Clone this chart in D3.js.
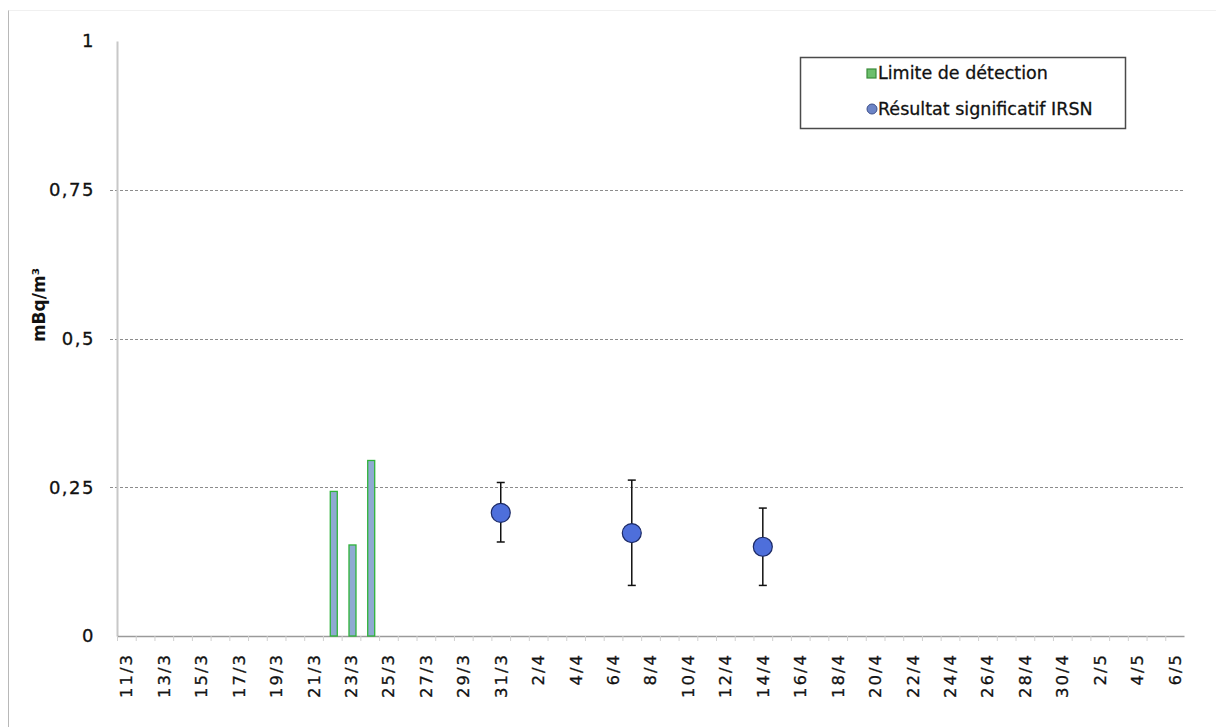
<!DOCTYPE html>
<html>
<head>
<meta charset="utf-8">
<script src="https://cdn.jsdelivr.net/npm/d3@7"></script>
<style>
  html, body { margin: 0; padding: 0; background: #fff; }
  svg { display: block; }
  text { font-family: "DejaVu Sans", Verdana, sans-serif; fill: #111; }
</style>
</head>
<body>
<svg id="chart" width="1216" height="727"></svg>
<script>
// Daily sampling dates (day/month), 11 March to 6 May
const days = [
  "11/3","12/3","13/3","14/3","15/3","16/3","17/3","18/3","19/3","20/3",
  "21/3","22/3","23/3","24/3","25/3","26/3","27/3","28/3","29/3","30/3","31/3",
  "1/4","2/4","3/4","4/4","5/4","6/4","7/4","8/4","9/4","10/4",
  "11/4","12/4","13/4","14/4","15/4","16/4","17/4","18/4","19/4","20/4",
  "21/4","22/4","23/4","24/4","25/4","26/4","27/4","28/4","29/4","30/4",
  "1/5","2/5","3/5","4/5","5/5","6/5"
];

// Detection limits (mBq/m³)
const limitDays = ["22/3", "23/3", "24/3"];
const limitValues = [0.243, 0.153, 0.295];

// Significant IRSN results with uncertainty range (mBq/m³)
const resultDays = ["31/3", "7/4", "14/4"];
const resultValues = [0.207, 0.173, 0.150];
const resultLow = [0.158, 0.085, 0.085];
const resultHigh = [0.258, 0.262, 0.215];

const yTicks = [0, 0.25, 0.5, 0.75, 1];
const yTickLabels = ["0", "0,25", "0,5", "0,75", "1"];

const legendLabels = ["Limite de détection", "Résultat significatif IRSN"];

const svg = d3.select("#chart");

// faint outer frame
svg.append("line").attr("x1", 8.5).attr("x2", 8.5).attr("y1", 10).attr("y2", 727)
  .attr("stroke", "#b8b8b8").attr("stroke-width", 1);
svg.append("line").attr("x1", 8.5).attr("x2", 1216).attr("y1", 10.5).attr("y2", 10.5)
  .attr("stroke", "#f0f0f0").attr("stroke-width", 1);

const plotLeft = 117, plotRight = 1184, plotTop = 41, plotBottom = 636;

const x = d3.scaleBand().domain(days).range([plotLeft, plotRight]).paddingInner(0).paddingOuter(0);
const y = d3.scaleLinear().domain([0, 1]).range([plotBottom, plotTop]);

// horizontal dashed gridlines
svg.append("g").selectAll("line")
  .data(yTicks.filter(t => t > 0 && t < 1))
  .join("line")
  .attr("x1", plotLeft - 7).attr("x2", plotRight)
  .attr("y1", d => Math.round(y(d)) + 0.5).attr("y2", d => Math.round(y(d)) + 0.5)
  .attr("stroke", "#8c8c8c").attr("stroke-width", 1)
  .attr("stroke-dasharray", "3,2");

// y axis
const yAxis = d3.axisLeft(y).tickValues(yTicks)
  .tickFormat((d, i) => yTickLabels[i]).tickSize(0).tickPadding(22);
const gy = svg.append("g").attr("transform", `translate(${plotLeft},0)`).call(yAxis);
gy.select(".domain").attr("stroke", "#c8c8c8").attr("stroke-width", 2);
gy.selectAll("text").style("font-size", "18px").style("letter-spacing", "1.5px")
  .attr("fill", "#111").attr("stroke", "#111").attr("stroke-width", 0.3);

// x axis
const xAxis = d3.axisBottom(x)
  .tickFormat((d, i) => (i % 2 === 0 ? d : ""))
  .tickSize(0).tickPadding(0);
const gx = svg.append("g").attr("transform", `translate(0,${plotBottom})`).call(xAxis);
gx.select(".domain").attr("stroke", "#9a9a9a").attr("stroke-width", 1.5);
gx.selectAll(".tick text")
  .attr("transform", "rotate(-90)")
  .attr("x", -17).attr("y", 0).attr("dy", "0.36em")
  .style("text-anchor", "end")
  .style("font-size", "16.5px").style("letter-spacing", "2px")
  .attr("fill", "#111").attr("stroke", "#111").attr("stroke-width", 0.3);

// small tick marks between days
svg.append("g").selectAll("line")
  .data(days)
  .join("line")
  .attr("x1", d => x(d) + 0.5).attr("x2", d => x(d) + 0.5)
  .attr("y1", plotBottom).attr("y2", plotBottom + 5)
  .attr("stroke", "#d0d0d0").attr("stroke-width", 1);

// y axis title
svg.append("text")
  .attr("transform", "translate(45,305) rotate(-90)")
  .attr("text-anchor", "middle")
  .style("font-size", "17px").style("font-weight", "bold")
  .text("mBq/m³");

// detection limit bars
const barW = 7;
svg.append("g").selectAll("rect")
  .data(limitDays.map((d, i) => ({ day: d, v: limitValues[i] })))
  .join("rect")
  .attr("x", d => x(d.day) + x.bandwidth() / 2 - barW / 2 + 1.5)
  .attr("y", d => y(d.v))
  .attr("width", barW)
  .attr("height", d => y(0) - y(d.v))
  .attr("fill", "#8faad2")
  .attr("stroke", "#2fb33a").attr("stroke-width", 1.3);

// results with error bars
const res = resultDays.map((d, i) => ({
  day: d, v: resultValues[i], lo: resultLow[i], hi: resultHigh[i]
}));
const eg = svg.append("g");
eg.selectAll("line.err").data(res).join("line").attr("class", "err")
  .attr("x1", d => x(d.day) + x.bandwidth() / 2).attr("x2", d => x(d.day) + x.bandwidth() / 2)
  .attr("y1", d => y(d.lo)).attr("y2", d => y(d.hi))
  .attr("stroke", "#111").attr("stroke-width", 1.5);
["lo", "hi"].forEach(k => {
  eg.selectAll("line.cap-" + k).data(res).join("line").attr("class", "cap-" + k)
    .attr("x1", d => x(d.day) + x.bandwidth() / 2 - 4).attr("x2", d => x(d.day) + x.bandwidth() / 2 + 4)
    .attr("y1", d => y(d[k])).attr("y2", d => y(d[k]))
    .attr("stroke", "#111").attr("stroke-width", 1.5);
});
eg.selectAll("circle").data(res).join("circle")
  .attr("cx", d => x(d.day) + x.bandwidth() / 2)
  .attr("cy", d => y(d.v))
  .attr("r", 9.5)
  .attr("fill", "#4e6fdb")
  .attr("stroke", "#1c2a66").attr("stroke-width", 1.2);

// legend
const lg = svg.append("g");
lg.append("rect").attr("x", 800.5).attr("y", 57.5).attr("width", 325).attr("height", 71)
  .attr("fill", "#fff").attr("stroke", "#4a4a4a").attr("stroke-width", 1.5);
lg.append("rect").attr("x", 867).attr("y", 69).attr("width", 9).attr("height", 9)
  .attr("fill", "#6cbf6c").attr("stroke", "#3a8c3a").attr("stroke-width", 1.2);
lg.append("circle").attr("cx", 872).attr("cy", 109).attr("r", 5)
  .attr("fill", "#6c84c6").attr("stroke", "#3d4f8a").attr("stroke-width", 1);
lg.selectAll("text").data(legendLabels).join("text")
  .attr("x", 878).attr("y", (d, i) => 73 + i * 36).attr("dy", "0.36em")
  .style("font-size", "17.5px")
  .attr("stroke", "#111").attr("stroke-width", 0.3)
  .text(d => d);
</script>
</body>
</html>
